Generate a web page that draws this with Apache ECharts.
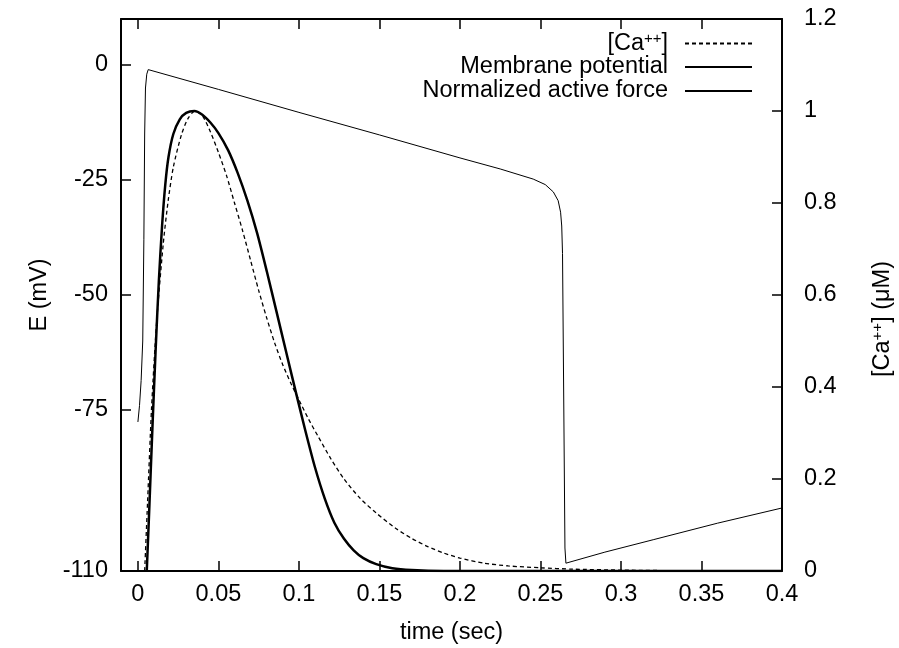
<!DOCTYPE html>
<html><head><meta charset="utf-8">
<script src="https://cdn.jsdelivr.net/npm/echarts@6/dist/echarts.min.js"></script>
<style>html,body{margin:0;padding:0;background:#fff}#c{width:899px;height:648px}</style>
</head><body><div id="c"></div>
<script>
// tick values
const xTicks = [0, 0.05, 0.1, 0.15, 0.2, 0.25, 0.3, 0.35, 0.4];
const eTicks = [-110, -75, -50, -25, 0];

// Membrane potential (mV) vs time (s)
const memT = [0, 0.001, 0.002, 0.003, 0.0037, 0.0042, 0.0047, 0.0055, 0.0064, 0.05, 0.1, 0.15, 0.2, 0.225, 0.2455, 0.253, 0.258, 0.261, 0.2625, 0.2632, 0.2637, 0.2645, 0.2652, 0.2658, 0.29, 0.32, 0.36, 0.4];
const memE = [-77.6, -74, -68.6, -60, -38, -15, -5, -2, -1.0, -5.3, -10.3, -15.2, -20.2, -22.6, -24.8, -26, -27.6, -29.5, -32, -35, -41, -75, -105, -108.3, -105.9, -103.2, -99.6, -96.3];

// [Ca++] (uM) vs time (s)
const caT = [0.0042, 0.006, 0.0085, 0.0116, 0.0157, 0.0188, 0.022, 0.027, 0.031, 0.0354, 0.040, 0.045, 0.050, 0.055, 0.060, 0.065, 0.070, 0.075, 0.080, 0.085, 0.090, 0.095, 0.100, 0.106, 0.112, 0.12, 0.128, 0.138, 0.148, 0.16, 0.17, 0.18, 0.19, 0.2, 0.215, 0.23, 0.25, 0.27, 0.3, 0.34, 0.4];
const caV = [0, 0.15, 0.356, 0.54, 0.71, 0.805, 0.878, 0.948, 0.983, 1.0, 0.99, 0.955, 0.91, 0.86, 0.80, 0.74, 0.675, 0.61, 0.55, 0.495, 0.448, 0.408, 0.372, 0.330, 0.292, 0.243, 0.2, 0.158, 0.126, 0.093, 0.071, 0.053, 0.039, 0.028, 0.017, 0.011, 0.007, 0.004, 0.002, 0.0005, 0];

// Normalized active force vs time (s)
const forceT = [0.0055, 0.007, 0.009, 0.011, 0.013, 0.015, 0.017, 0.019, 0.022, 0.026, 0.030, 0.035, 0.040, 0.045, 0.050, 0.056, 0.062, 0.068, 0.074, 0.080, 0.086, 0.092, 0.098, 0.104, 0.110, 0.116, 0.122, 0.128, 0.134, 0.140, 0.148, 0.158, 0.170, 0.190, 0.4];
const forceV = [0, 0.13, 0.31, 0.48, 0.63, 0.75, 0.84, 0.90, 0.95, 0.982, 0.996, 1.0, 0.992, 0.975, 0.952, 0.915, 0.865, 0.805, 0.735, 0.652, 0.565, 0.477, 0.39, 0.305, 0.225, 0.158, 0.105, 0.07, 0.045, 0.028, 0.015, 0.006, 0.002, 0, 0];

const zip = (a, b) => a.map((v, i) => [v, b[i]]);
const FONT = 'Liberation Sans';
const FS = 23.5;
const black = '#000';
const sup = { fontSize: 15, verticalAlign: 'top', lineHeight: 15, fontFamily: FONT, color: black };

const chart = echarts.init(document.getElementById('c'), null, { renderer: 'canvas' });

function legendFor(name, top, label) {
  return {
    data: [name], right: 146, top: top, orient: 'vertical', align: 'right',
    itemWidth: 67, itemHeight: 14, padding: 0,
    itemStyle: { opacity: 0 },
    formatter: () => label,
    textStyle: { fontFamily: FONT, fontSize: FS, color: black, padding: [0, 12, 0, 0],
      rich: { n: { fontFamily: FONT, fontSize: FS, color: black, lineHeight: 25 }, sup: sup } }
  };
}

const xBase = {
  type: 'value', min: -0.0105, max: 0.4,
  axisLine: { show: true, onZero: false, lineStyle: { color: black, width: 2 } },
  axisTick: { show: true, inside: true, length: 10, customValues: xTicks, lineStyle: { color: black, width: 1.5 } },
  splitLine: { show: false }
};

chart.setOption({
  animation: false,
  backgroundColor: '#fff',
  grid: { left: 121, right: 117, top: 19, bottom: 77, containLabel: false, outerBoundsMode: 'none' },
  legend: [
    legendFor('[Ca++]', 31, '{n|[Ca}{sup|++}{n|]}'),
    legendFor('Membrane potential', 55, '{n|Membrane potential}'),
    legendFor('Normalized active force', 79, '{n|Normalized active force}')
  ],
  xAxis: [Object.assign({}, xBase, {
    position: 'bottom',
    name: 'time (sec)', nameLocation: 'middle', nameGap: 50,
    nameTextStyle: { fontFamily: FONT, fontSize: FS, color: black },
    axisLabel: { customValues: xTicks, margin: 12, fontFamily: FONT, fontSize: FS, color: black, formatter: v => String(v) }
  }), Object.assign({}, xBase, {
    position: 'top', axisLabel: { show: false }
  })],
  yAxis: [{
    type: 'value', min: -110, max: 10, position: 'left',
    name: 'E (mV)', nameLocation: 'middle', nameGap: 68, nameRotate: 90,
    nameTextStyle: { fontFamily: FONT, fontSize: FS, color: black },
    axisLine: { show: true, onZero: false, lineStyle: { color: black, width: 2 } },
    axisTick: { show: true, inside: true, length: 10, customValues: eTicks, lineStyle: { color: black, width: 1.5 } },
    axisLabel: { customValues: eTicks, margin: 13, fontFamily: FONT, fontSize: FS, color: black },
    splitLine: { show: false }
  }, {
    type: 'value', min: 0, max: 1.2, interval: 0.2, position: 'right',
    name: '{n|[Ca}{sup|++}{n|] (μM)}', nameLocation: 'middle', nameGap: 88, nameRotate: 90,
    nameTextStyle: { fontFamily: FONT, fontSize: FS, color: black, padding: [0, 48, 0, 0],
      rich: { n: { fontFamily: FONT, fontSize: FS, color: black, lineHeight: 25 }, sup: sup } },
    axisLine: { show: true, onZero: false, lineStyle: { color: black, width: 2 } },
    axisTick: { show: true, inside: true, length: 10, lineStyle: { color: black, width: 1.5 } },
    axisLabel: { margin: 22, fontFamily: FONT, fontSize: FS, color: black },
    splitLine: { show: false }
  }],
  series: [{
    name: '[Ca++]', type: 'line', yAxisIndex: 1, symbol: 'none', smooth: 0.25,
    data: zip(caT, caV),
    lineStyle: { color: black, width: 1.3, type: [4, 3] }, itemStyle: { color: black }
  }, {
    name: 'Membrane potential', type: 'line', yAxisIndex: 0, symbol: 'none', smooth: false,
    data: zip(memT, memE),
    lineStyle: { color: black, width: 1 }, itemStyle: { color: black }
  }, {
    name: 'Normalized active force', type: 'line', yAxisIndex: 1, symbol: 'none', smooth: 0.25,
    data: zip(forceT, forceV),
    lineStyle: { color: black, width: 2.5 }, itemStyle: { color: black }
  }]
});
</script></body></html>
